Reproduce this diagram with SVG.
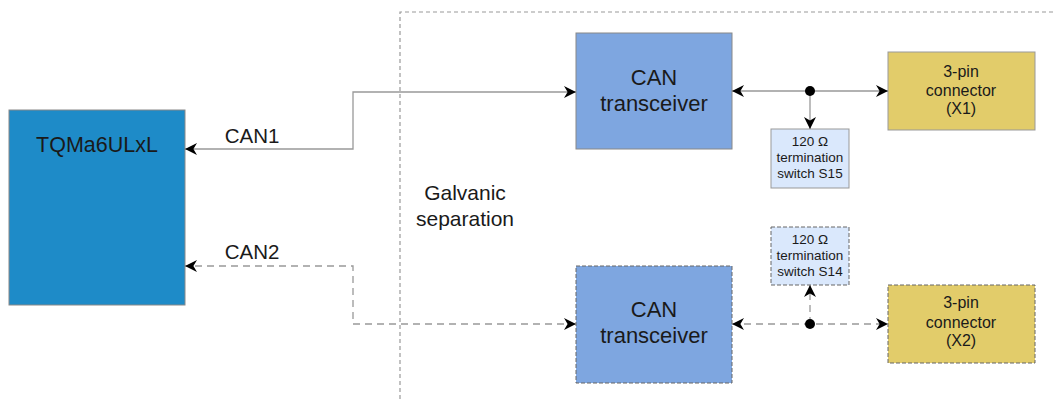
<svg xmlns="http://www.w3.org/2000/svg" width="1054" height="399" viewBox="0 0 1054 399">
<defs>
<marker id="ah" viewBox="0 0 10 10" refX="10" refY="5" markerWidth="13" markerHeight="12" markerUnits="userSpaceOnUse" orient="auto-start-reverse">
<path d="M0,0 L10,5 L0,10 L3,5 Z" fill="#000"/>
</marker>
</defs>
<style>
text{font-family:"Liberation Sans",Arial,sans-serif;fill:#1a1a1a;text-anchor:middle}
.ln{fill:none;stroke:#999;stroke-width:1.3}
.dash{stroke-dasharray:7 5}
.sep{fill:none;stroke:#999;stroke-width:1.2;stroke-dasharray:4 3}
.mod{fill:#1e8bc8;stroke:#888;stroke-width:1}
.tr{fill:#7ea6e0;stroke:#888;stroke-width:1}
.term{fill:#dae8fc;stroke:#999;stroke-width:1}
.con{fill:#e2cc6a;stroke:#999;stroke-width:1}
.dsh{stroke-dasharray:4 2;stroke:#666}
</style>
<g id="separation">
<path class="sep" d="M400,399 V12 H1054"/>
<text x="465" y="200" font-size="21">Galvanic</text>
<text x="465" y="226" font-size="21">separation</text>
</g>
<g id="tqma">
<rect class="mod" x="9" y="110" width="176" height="195"/>
<text x="97" y="152" font-size="21.5">TQMa6ULxL</text>
</g>
<g id="can-transceiver-1">
<rect class="tr" x="576" y="33" width="156" height="116"/>
<text x="654" y="85" font-size="22">CAN</text>
<text x="654" y="111" font-size="22">transceiver</text>
</g>
<g id="can-transceiver-2">
<rect class="tr dsh" x="576" y="266" width="156" height="117"/>
<text x="654" y="317" font-size="22">CAN</text>
<text x="654" y="343" font-size="22">transceiver</text>
</g>
<g id="term-s15">
<rect class="term" x="771" y="129" width="78" height="59"/>
<text x="810" y="146" font-size="13.5">120 Ω</text>
<text x="810" y="162" font-size="13.5">termination</text>
<text x="810" y="178" font-size="13.5">switch S15</text>
</g>
<g id="term-s14">
<rect class="term dsh" x="771" y="227" width="78" height="58"/>
<text x="810" y="244" font-size="13.5">120 Ω</text>
<text x="810" y="260" font-size="13.5">termination</text>
<text x="810" y="276" font-size="13.5">switch S14</text>
</g>
<g id="connector-x1">
<rect class="con" x="888" y="52" width="147" height="78"/>
<text x="961" y="77" font-size="16">3-pin</text>
<text x="961" y="96" font-size="16">connector</text>
<text x="961" y="114" font-size="16">(X1)</text>
</g>
<g id="connector-x2">
<rect class="con dsh" x="888" y="285" width="147" height="78"/>
<text x="961" y="308" font-size="16">3-pin</text>
<text x="961" y="328" font-size="16">connector</text>
<text x="961" y="346" font-size="16">(X2)</text>
</g>
<g id="connectors">
<path class="ln" d="M576,92 H353 V149 H185" marker-start="url(#ah)" marker-end="url(#ah)"/>
<path class="ln dash" d="M576,324 H353 V266 H185" marker-start="url(#ah)" marker-end="url(#ah)"/>
<path class="ln" d="M732,91 H888" marker-start="url(#ah)" marker-end="url(#ah)"/>
<path class="ln" d="M810,91 V129" marker-end="url(#ah)"/>
<circle cx="810" cy="91" r="5" fill="#000"/>
<path class="ln dash" d="M732,324 H888" marker-start="url(#ah)" marker-end="url(#ah)"/>
<path class="ln dash" d="M810,324 V285" marker-end="url(#ah)"/>
<circle cx="810" cy="324" r="5" fill="#000"/>
<text x="252" y="143" font-size="20.5">CAN1</text>
<text x="252" y="259" font-size="20.5">CAN2</text>
</g>
</svg>
